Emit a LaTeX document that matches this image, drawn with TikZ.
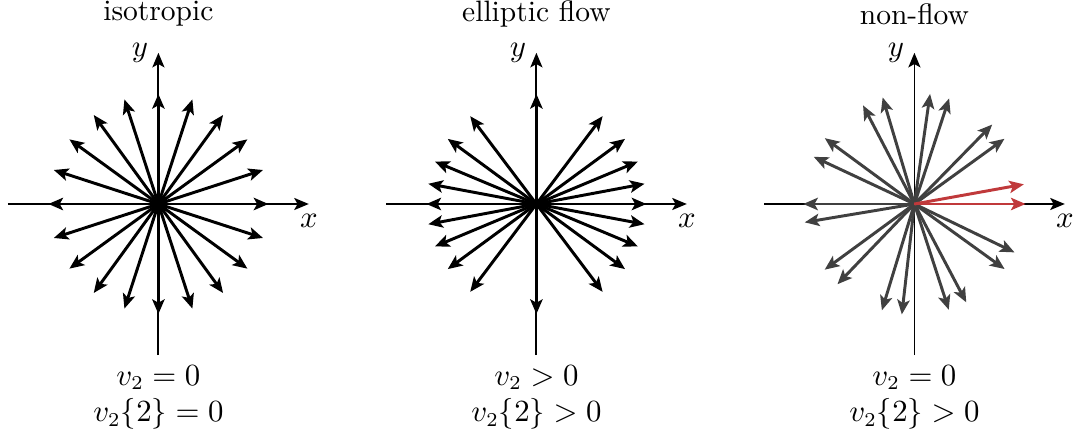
\documentclass[tikz,border=0pt]{standalone}
\usetikzlibrary{arrows.meta,calc}
\definecolor{nfgray}{HTML}{404040}
\definecolor{nfred}{HTML}{C0393B}
\tikzstyle{axis}=[-{Stealth[length=5.2pt,width=4.3pt,inset=1.2pt]}, line width=0.65pt]
\tikzstyle{vec}=[-{Stealth[length=5.2pt,width=4.4pt,inset=1.2pt]}, line width=1.05pt]
\tikzstyle{res}=[below,align=center]

\begin{document}
\begin{tikzpicture}[font=\fontsize{10.5}{13}\selectfont]
\useasboundingbox (0,0) rectangle (13.5125,5.4);
\coordinate (iso) at (1.98,2.85);
\coordinate (ell) at (6.705,2.85);
\coordinate (non) at (11.43,2.85);
% axes, titles and results
\foreach \c/\t/\r/\s in {iso/isotropic/=/=, ell/elliptic flow/>/>, non/non-flow/=/>}{
  \node (t\c) at ($(\c)+(0,2.375)$) {\t};
  \draw[axis] ($(\c)+(-1.88,0)$) -- ($(\c)+(1.88,0)$) node[below] (x\c) {$x$};
  \draw[axis] ($(\c)+(0,-1.89)$) node[res] (r\c) {$v_2 \r 0$\\$v_2\{2\} \s 0$} -- ($(\c)+(0,1.89)$) node[left] (y\c) {$y$};
}
% isotropic
\foreach \a in {0,18,...,342} \draw[vec] (iso) -- ++(\a:1.375);
% elliptic flow
\foreach \a in {0,10.6,22.7,36.3,53,90,127,143.7,157.3,169.4,180,190.6,202.7,216.3,233,270,307,323.7,337.3,349.4}
  \draw[vec] (ell) -- ++(\a:1.375);
% non-flow
\foreach \a in {35.9,45.6,71.8,81.9,106.6,117.5,143.7,154.9,180,189.5,216.2,226.2,253,263.5,288,297.8,324.2,334.2}
  \draw[vec,nfgray] (non) -- ++(\a:1.39);
\foreach \a in {0,10.2} \draw[vec,nfred] (non) -- ++(\a:1.39);
\end{tikzpicture}
\end{document}
